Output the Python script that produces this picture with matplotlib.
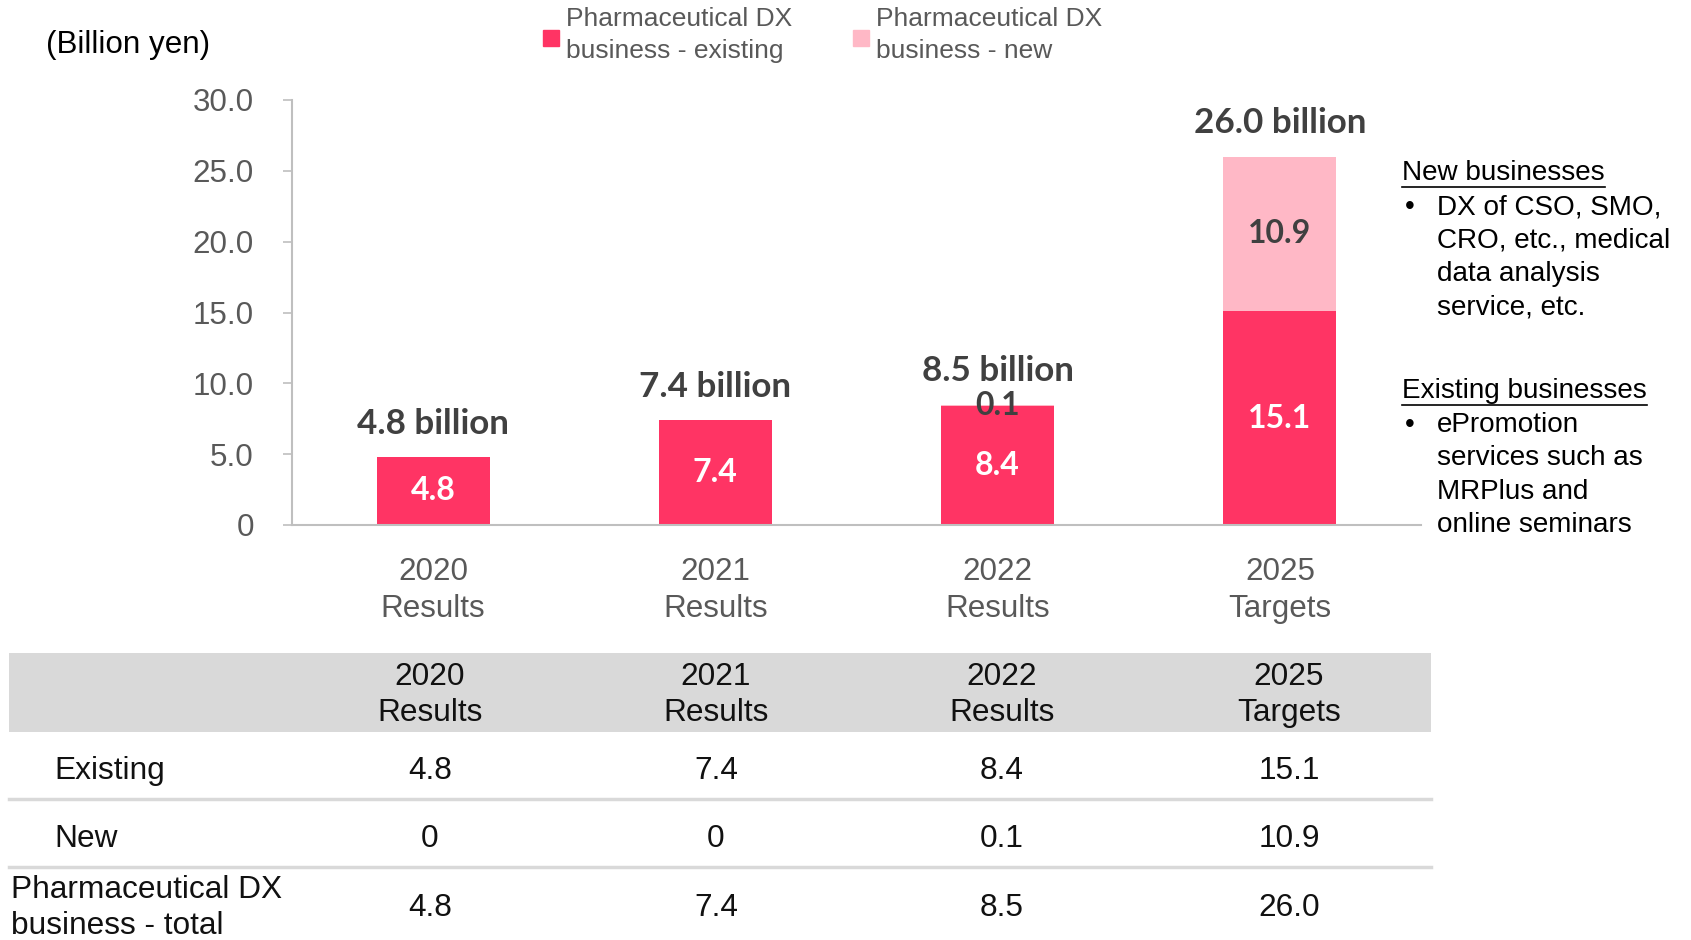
import numpy as np
import matplotlib.pyplot as plt
from matplotlib.patches import Rectangle
from matplotlib.lines import Line2D

categories = ['2020\nResults', '2021\nResults', '2022\nResults', '2025\nTargets']
existing = [4.8, 7.4, 8.4, 15.1]
new = [0.0, 0.0, 0.1, 10.9]
totals = [4.8, 7.4, 8.5, 26.0]
yticks = [0, 5, 10, 15, 20, 25, 30]
legend_labels = ['Pharmaceutical DX\nbusiness - existing', 'Pharmaceutical DX\nbusiness - new']
row_labels = ['Existing', 'New', 'Pharmaceutical DX\nbusiness - total']
new_notes = ['DX of CSO, SMO,', 'CRO, etc., medical', 'data analysis', 'service, etc.']
existing_notes = ['ePromotion', 'services such as', 'MRPlus and', 'online seminars']

W, H = 1691, 940
C_EXIST = '#FF3464'
C_NEW = '#FFB8C6'
GREY_TXT = '#595959'
DARK = '#404040'
BOLD_FONT = ['Lato', 'DejaVu Sans']

plt.rcParams['font.family'] = ['Liberation Sans', 'DejaVu Sans']


def fs(px):
    # pixel em size -> points (dpi 100)
    return px * 0.72


def fmt(v):
    return '0' if v == 0 else f'{v:.1f}'


fig = plt.figure(figsize=(W / 100, H / 100), dpi=100)

ax = fig.add_axes([292 / W, 1 - 525 / H, (1421 - 292) / W, (525 - 100) / H])
ax.patch.set_visible(False)

# overlay in pixel coordinates for the surrounding text and the table
ov = fig.add_axes([0, 0, 1, 1], zorder=3)
ov.set_xlim(0, W)
ov.set_ylim(H, 0)
ov.axis('off')

x = np.arange(len(categories))
width = 0.4
ax.bar(x, existing, width, color=C_EXIST)
ax.bar(x, new, width, bottom=existing, color=C_NEW)

# segment labels
for i in x:
    ax.text(i, existing[i] / 2, fmt(existing[i]), ha='center', va='center',
            color='white', fontsize=fs(32), fontweight='bold', family=BOLD_FONT)
    if new[i] > 0:
        ax.text(i, existing[i] + new[i] / 2, fmt(new[i]), ha='center', va='center',
                color=DARK, fontsize=fs(32), fontweight='bold', family=BOLD_FONT)
    ax.annotate(f'{totals[i]:.1f} billion', (i, totals[i]), xytext=(0, 24),
                textcoords='offset points', ha='center', va='center',
                color=DARK, fontsize=fs(35), fontweight='bold', family=BOLD_FONT)

ax.set_xlim(-0.5, 3.5)
ax.set_ylim(0, 30)
ax.set_yticks(yticks)
ax.set_yticklabels([fmt(t) for t in yticks])
ax.set_xticks(x)
ax.set_xticklabels(categories, linespacing=1.31)
ax.tick_params(axis='y', length=6.5, width=1.2, color='#BFBFBF', pad=21,
               labelsize=fs(31.4), labelcolor=GREY_TXT)
ax.tick_params(axis='x', length=0, pad=23, labelsize=fs(31.4), labelcolor=GREY_TXT)
for s in ['top', 'right']:
    ax.spines[s].set_visible(False)
for s in ['left', 'bottom']:
    ax.spines[s].set_color('#BFBFBF')
    ax.spines[s].set_linewidth(1.5)

# unit label and legend
ov.text(46, 45, '(Billion yen)', ha='left', va='center', fontsize=fs(31.4), color='black')
for (lx, color, label) in [(543, C_EXIST, legend_labels[0]), (853, C_NEW, legend_labels[1])]:
    ov.add_patch(Rectangle((lx, 30), 16, 16, color=color))
    ov.text(lx + 23, 35, label, ha='left', va='center', fontsize=fs(26.4),
            color=GREY_TXT, linespacing=1.4)

# right side notes
note_fs = fs(27.9)
headers = [('New businesses', 173, new_notes, 207), ('Existing businesses', 391, existing_notes, 425)]
fig.canvas.draw()
renderer = fig.canvas.get_renderer()
for title, ty, lines, y0 in headers:
    t = ov.text(1402, ty, title, ha='left', va='center', fontsize=note_fs, color='black')
    bb = t.get_window_extent(renderer)
    ov.add_line(Line2D([1402, 1402 + bb.width], [ty + 14, ty + 14], color='black', lw=1.2))
    ov.text(1405, y0, '\u2022', ha='left', va='center', fontsize=note_fs, color='black')
    for k, line in enumerate(lines):
        ov.text(1437, y0 + k * 33.4, line, ha='left', va='center', fontsize=note_fs, color='black')

# table
col_x = [430, 716, 1002, 1289]
tab_fs = fs(31.7)
TXT = '#111111'
ov.add_patch(Rectangle((9, 653), 1422, 79, color='#D9D9D9', lw=0))
for cx, cat in zip(col_x, categories):
    ov.text(cx, 695, cat, ha='center', va='center', fontsize=tab_fs, color=TXT, linespacing=1.27)
for sy in [799, 867]:
    ov.add_line(Line2D([9, 1431], [sy, sy], color='#D9D9D9', lw=2.5))

rows = [existing, new, totals]
row_y = [771, 839, 908]
row_lx = [54, 54, 11]
for label, vals, ry, lx in zip(row_labels, rows, row_y, row_lx):
    ov.text(lx, ry, label, ha='left', va='center', fontsize=tab_fs, color=TXT, linespacing=1.22)
    for cx, v in zip(col_x, vals):
        ov.text(cx, ry, fmt(v), ha='center', va='center', fontsize=tab_fs, color=TXT)

fig.savefig('out.png', dpi=100)
